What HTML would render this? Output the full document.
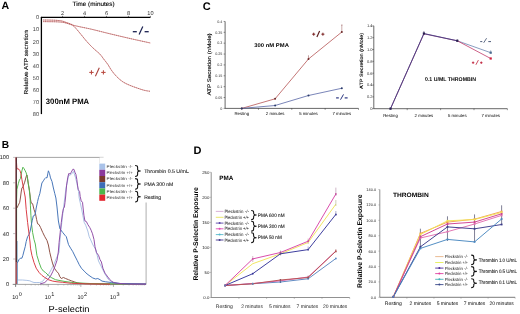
<!DOCTYPE html>
<html><head><meta charset="utf-8"><style>
html,body{margin:0;padding:0;background:#fff;}
body{width:520px;height:314px;overflow:hidden;}
svg{display:block;font-family:"Liberation Sans", sans-serif;will-change:transform;}
</style></head><body>
<svg text-rendering="geometricPrecision" width="520" height="314" viewBox="0 0 520 314" font-family='"Liberation Sans", sans-serif'>
<rect width="520" height="314" fill="#fff"/>
<text x="1.4" y="8.9" font-size="10.6" text-anchor="start" font-weight="bold" fill="#000">A</text>
<text x="72.5" y="5.6" font-size="6.2" text-anchor="start" fill="#000" textLength="42" lengthAdjust="spacingAndGlyphs" stroke="#000" stroke-width="0.12">Time (minutes)</text>
<line x1="40.9" y1="17.4" x2="150.4" y2="17.4" stroke="#000" stroke-width="1.2"/>
<line x1="41.4" y1="16.9" x2="41.4" y2="114.10000000000001" stroke="#000" stroke-width="1.3"/>
<text x="62.56" y="14.6" font-size="5.6" text-anchor="middle" fill="#333">2</text>
<line x1="62.56" y1="15.899999999999999" x2="62.56" y2="17.4" stroke="#000" stroke-width="0.5"/>
<text x="84.52000000000001" y="14.6" font-size="5.6" text-anchor="middle" fill="#333">4</text>
<line x1="84.52000000000001" y1="15.899999999999999" x2="84.52000000000001" y2="17.4" stroke="#000" stroke-width="0.5"/>
<text x="106.47999999999999" y="14.6" font-size="5.6" text-anchor="middle" fill="#333">6</text>
<line x1="106.47999999999999" y1="15.899999999999999" x2="106.47999999999999" y2="17.4" stroke="#000" stroke-width="0.5"/>
<text x="128.44" y="14.6" font-size="5.6" text-anchor="middle" fill="#333">8</text>
<line x1="128.44" y1="15.899999999999999" x2="128.44" y2="17.4" stroke="#000" stroke-width="0.5"/>
<text x="150.4" y="14.6" font-size="5.6" text-anchor="middle" fill="#333">10</text>
<line x1="150.4" y1="15.899999999999999" x2="150.4" y2="17.4" stroke="#000" stroke-width="0.5"/>
<text x="39.1" y="19.4" font-size="5.6" text-anchor="end" fill="#444">0</text>
<text x="39.1" y="31.45" font-size="5.6" text-anchor="end" fill="#444">10</text>
<text x="39.1" y="43.5" font-size="5.6" text-anchor="end" fill="#444">20</text>
<text x="39.1" y="55.550000000000004" font-size="5.6" text-anchor="end" fill="#444">30</text>
<text x="39.1" y="67.6" font-size="5.6" text-anchor="end" fill="#444">40</text>
<text x="39.1" y="79.65" font-size="5.6" text-anchor="end" fill="#444">50</text>
<text x="39.1" y="91.70000000000002" font-size="5.6" text-anchor="end" fill="#444">60</text>
<text x="39.1" y="103.75" font-size="5.6" text-anchor="end" fill="#444">70</text>
<text x="39.1" y="115.80000000000001" font-size="5.6" text-anchor="end" fill="#444">80</text>
<text x="27.6" y="62.4" font-size="5.8" text-anchor="middle" fill="#000" transform="rotate(-90 27.6 62.4)" textLength="64.2" lengthAdjust="spacingAndGlyphs" stroke="#000" stroke-width="0.12">Relative ATP secretion</text>
<path d="M43.00,20.00 C44.17,20.02 47.83,20.05 50.00,20.10 C52.17,20.15 54.00,20.15 56.00,20.30 C58.00,20.45 60.33,20.65 62.00,21.00 C63.67,21.35 64.35,21.80 66.00,22.40 C67.65,23.00 70.23,23.58 71.90,24.60 C73.57,25.62 74.53,26.92 76.00,28.50 C77.47,30.08 79.12,32.18 80.70,34.10 C82.28,36.02 83.90,38.13 85.50,40.00 C87.10,41.87 88.72,43.67 90.30,45.30 C91.88,46.93 93.38,48.32 95.00,49.80 C96.62,51.28 98.58,52.70 100.00,54.20 C101.42,55.70 102.18,57.08 103.50,58.80 C104.82,60.52 106.58,62.60 107.90,64.50 C109.22,66.40 109.95,68.20 111.40,70.20 C112.85,72.20 114.70,74.57 116.60,76.50 C118.50,78.43 120.60,80.33 122.80,81.80 C125.00,83.27 127.47,84.28 129.80,85.30 C132.13,86.32 134.47,87.08 136.80,87.90 C139.13,88.72 141.60,89.63 143.80,90.20 C146.00,90.77 148.97,91.12 150.00,91.30" fill="none" stroke="#d47070" stroke-width="0.75"/>
<path d="M43.00,20.00 C44.17,20.02 47.83,20.05 50.00,20.10 C52.17,20.15 54.00,20.15 56.00,20.30 C58.00,20.45 60.33,20.65 62.00,21.00 C63.67,21.35 64.35,21.80 66.00,22.40 C67.65,23.00 70.23,23.58 71.90,24.60 C73.57,25.62 74.53,26.92 76.00,28.50 C77.47,30.08 79.12,32.18 80.70,34.10 C82.28,36.02 83.90,38.13 85.50,40.00 C87.10,41.87 88.72,43.67 90.30,45.30 C91.88,46.93 93.38,48.32 95.00,49.80 C96.62,51.28 98.58,52.70 100.00,54.20 C101.42,55.70 102.18,57.08 103.50,58.80 C104.82,60.52 106.58,62.60 107.90,64.50 C109.22,66.40 109.95,68.20 111.40,70.20 C112.85,72.20 114.70,74.57 116.60,76.50 C118.50,78.43 120.60,80.33 122.80,81.80 C125.00,83.27 127.47,84.28 129.80,85.30 C132.13,86.32 134.47,87.08 136.80,87.90 C139.13,88.72 141.60,89.63 143.80,90.20 C146.00,90.77 148.97,91.12 150.00,91.30" fill="none" stroke="#6a3a3a" stroke-width="0.45" stroke-dasharray="0.9 1.3"/>
<path d="M43.00,21.60 C44.17,21.62 47.83,21.67 50.00,21.70 C52.17,21.73 54.00,21.72 56.00,21.80 C58.00,21.88 60.33,22.00 62.00,22.20 C63.67,22.40 64.35,22.55 66.00,23.00 C67.65,23.45 69.57,24.27 71.90,24.90 C74.23,25.53 76.68,26.07 80.00,26.80 C83.32,27.53 86.80,28.13 91.80,29.30 C96.80,30.47 103.63,32.27 110.00,33.80 C116.37,35.33 123.27,36.97 130.00,38.50 C136.73,40.03 147.00,42.25 150.40,43.00" fill="none" stroke="#d47070" stroke-width="0.75"/>
<path d="M43.00,21.60 C44.17,21.62 47.83,21.67 50.00,21.70 C52.17,21.73 54.00,21.72 56.00,21.80 C58.00,21.88 60.33,22.00 62.00,22.20 C63.67,22.40 64.35,22.55 66.00,23.00 C67.65,23.45 69.57,24.27 71.90,24.90 C74.23,25.53 76.68,26.07 80.00,26.80 C83.32,27.53 86.80,28.13 91.80,29.30 C96.80,30.47 103.63,32.27 110.00,33.80 C116.37,35.33 123.27,36.97 130.00,38.50 C136.73,40.03 147.00,42.25 150.40,43.00" fill="none" stroke="#6a3a3a" stroke-width="0.45" stroke-dasharray="0.9 1.3"/>
<line x1="89.25" y1="72.4" x2="93.65" y2="72.4" stroke="#b8483e" stroke-width="1.05"/>
<line x1="91.45" y1="70.2" x2="91.45" y2="74.60000000000001" stroke="#b8483e" stroke-width="1.05"/>
<line x1="95.4" y1="76.3" x2="99.3" y2="67.7" stroke="#a8403a" stroke-width="1.1"/>
<line x1="101.2" y1="72.4" x2="105.60000000000001" y2="72.4" stroke="#b8483e" stroke-width="1.05"/>
<line x1="103.4" y1="70.2" x2="103.4" y2="74.60000000000001" stroke="#b8483e" stroke-width="1.05"/>
<line x1="132.8" y1="31.7" x2="136.8" y2="31.7" stroke="#1a2050" stroke-width="1.3"/>
<line x1="139.1" y1="34.5" x2="142.8" y2="26.5" stroke="#1a2050" stroke-width="1.2"/>
<line x1="144.6" y1="31.7" x2="148.7" y2="31.7" stroke="#1a2050" stroke-width="1.3"/>
<text x="45.8" y="103.9" font-size="7.8" text-anchor="start" font-weight="bold" fill="#000" textLength="43.4" lengthAdjust="spacingAndGlyphs">300nM PMA</text>
<text x="202.7" y="10.0" font-size="11.0" text-anchor="start" font-weight="bold" fill="#000">C</text>
<line x1="225.1" y1="21.439999999999998" x2="225.1" y2="108.4" stroke="#000" stroke-width="0.6"/>
<line x1="225.1" y1="108.4" x2="358.5" y2="108.4" stroke="#000" stroke-width="0.6"/>
<text x="222.4" y="109.7" font-size="3.7" text-anchor="end" fill="#333">0</text>
<line x1="223.6" y1="108.4" x2="225.1" y2="108.4" stroke="#000" stroke-width="0.4"/>
<text x="222.4" y="98.83" font-size="3.7" text-anchor="end" fill="#333">0.05</text>
<line x1="223.6" y1="97.53" x2="225.1" y2="97.53" stroke="#000" stroke-width="0.4"/>
<text x="222.4" y="87.96" font-size="3.7" text-anchor="end" fill="#333">0.1</text>
<line x1="223.6" y1="86.66" x2="225.1" y2="86.66" stroke="#000" stroke-width="0.4"/>
<text x="222.4" y="77.09" font-size="3.7" text-anchor="end" fill="#333">0.15</text>
<line x1="223.6" y1="75.79" x2="225.1" y2="75.79" stroke="#000" stroke-width="0.4"/>
<text x="222.4" y="66.22" font-size="3.7" text-anchor="end" fill="#333">0.2</text>
<line x1="223.6" y1="64.92" x2="225.1" y2="64.92" stroke="#000" stroke-width="0.4"/>
<text x="222.4" y="55.35" font-size="3.7" text-anchor="end" fill="#333">0.25</text>
<line x1="223.6" y1="54.050000000000004" x2="225.1" y2="54.050000000000004" stroke="#000" stroke-width="0.4"/>
<text x="222.4" y="44.480000000000004" font-size="3.7" text-anchor="end" fill="#333">0.3</text>
<line x1="223.6" y1="43.18000000000001" x2="225.1" y2="43.18000000000001" stroke="#000" stroke-width="0.4"/>
<text x="222.4" y="33.61" font-size="3.7" text-anchor="end" fill="#333">0.35</text>
<line x1="223.6" y1="32.31" x2="225.1" y2="32.31" stroke="#000" stroke-width="0.4"/>
<text x="222.4" y="22.74" font-size="3.7" text-anchor="end" fill="#333">0.4</text>
<line x1="223.6" y1="21.439999999999998" x2="225.1" y2="21.439999999999998" stroke="#000" stroke-width="0.4"/>
<line x1="258.45" y1="108.4" x2="258.45" y2="109.9" stroke="#000" stroke-width="0.4"/>
<line x1="291.8" y1="108.4" x2="291.8" y2="109.9" stroke="#000" stroke-width="0.4"/>
<line x1="325.15" y1="108.4" x2="325.15" y2="109.9" stroke="#000" stroke-width="0.4"/>
<line x1="358.5" y1="108.4" x2="358.5" y2="109.9" stroke="#000" stroke-width="0.4"/>
<text x="241.775" y="115.4" font-size="4.3" text-anchor="middle" fill="#000">Resting</text>
<text x="275.125" y="115.4" font-size="4.3" text-anchor="middle" fill="#000">2 minutes</text>
<text x="308.475" y="115.4" font-size="4.3" text-anchor="middle" fill="#000">5 minutes</text>
<text x="341.825" y="115.4" font-size="4.3" text-anchor="middle" fill="#000">7 minutes</text>
<text x="210.6" y="64.4" font-size="5.2" text-anchor="middle" fill="#000" transform="rotate(-90 210.6 64.4)" textLength="62.2" lengthAdjust="spacingAndGlyphs" stroke="#000" stroke-width="0.12">ATP Secretion (nMole)</text>
<polyline points="241.78,108.40 275.12,98.80 308.48,59.00 341.82,32.00" fill="none" stroke="#b04a4a" stroke-width="0.75" stroke-linejoin="round"/>
<polyline points="241.78,108.40 275.12,105.50 308.48,95.50 341.82,88.25" fill="none" stroke="#4d5ca0" stroke-width="0.75" stroke-linejoin="round"/>
<circle cx="241.775" cy="108.4" r="1.0" fill="#6a2a2a"/>
<circle cx="275.125" cy="98.8" r="1.0" fill="#6a2a2a"/>
<circle cx="308.475" cy="59.0" r="1.0" fill="#6a2a2a"/>
<circle cx="341.825" cy="32" r="1.0" fill="#6a2a2a"/>
<circle cx="241.775" cy="108.4" r="1.0" fill="#2a3a6a"/>
<circle cx="275.125" cy="105.5" r="1.0" fill="#2a3a6a"/>
<circle cx="308.475" cy="95.5" r="1.0" fill="#2a3a6a"/>
<circle cx="341.825" cy="88.25" r="1.0" fill="#2a3a6a"/>
<line x1="341.825" y1="25" x2="341.825" y2="32" stroke="#7a2a2a" stroke-width="0.4"/>
<line x1="341.025" y1="25" x2="342.625" y2="25" stroke="#7a2a2a" stroke-width="0.4"/>
<line x1="308.475" y1="55.3" x2="308.475" y2="59.5" stroke="#7a2a2a" stroke-width="0.45"/>
<text x="254.3" y="47.1" font-size="5.4" text-anchor="start" font-weight="bold" fill="#000" textLength="34.6" lengthAdjust="spacingAndGlyphs">300 nM PMA</text>
<line x1="312.2" y1="34.2" x2="315.2" y2="34.2" stroke="#7a2222" stroke-width="1.0"/>
<line x1="313.7" y1="32.7" x2="313.7" y2="35.7" stroke="#7a2222" stroke-width="1.0"/>
<line x1="316.9" y1="37.0" x2="319.6" y2="30.9" stroke="#5a1c1c" stroke-width="1.15"/>
<line x1="321.4" y1="34.2" x2="324.4" y2="34.2" stroke="#7a2222" stroke-width="1.0"/>
<line x1="322.9" y1="32.7" x2="322.9" y2="35.7" stroke="#7a2222" stroke-width="1.0"/>
<line x1="336.1" y1="97.9" x2="338.8" y2="97.9" stroke="#2a3580" stroke-width="1.2"/>
<line x1="340.5" y1="99.7" x2="343.5" y2="94.4" stroke="#2a3580" stroke-width="1.0"/>
<line x1="344.7" y1="97.9" x2="347.6" y2="97.9" stroke="#2a3580" stroke-width="1.2"/>
<line x1="373.8" y1="25.820000000000007" x2="373.8" y2="108.7" stroke="#000" stroke-width="0.6"/>
<line x1="373.8" y1="108.7" x2="507.4" y2="108.7" stroke="#000" stroke-width="0.6"/>
<text x="372.5" y="110.10000000000001" font-size="4.0" text-anchor="end" fill="#333">0</text>
<line x1="372.3" y1="108.7" x2="373.8" y2="108.7" stroke="#000" stroke-width="0.4"/>
<text x="372.5" y="98.26" font-size="4.0" text-anchor="end" fill="#333">0.2</text>
<line x1="372.3" y1="96.86" x2="373.8" y2="96.86" stroke="#000" stroke-width="0.4"/>
<text x="372.5" y="86.42" font-size="4.0" text-anchor="end" fill="#333">0.4</text>
<line x1="372.3" y1="85.02" x2="373.8" y2="85.02" stroke="#000" stroke-width="0.4"/>
<text x="372.5" y="74.58000000000001" font-size="4.0" text-anchor="end" fill="#333">0.6</text>
<line x1="372.3" y1="73.18" x2="373.8" y2="73.18" stroke="#000" stroke-width="0.4"/>
<text x="372.5" y="62.739999999999995" font-size="4.0" text-anchor="end" fill="#333">0.8</text>
<line x1="372.3" y1="61.339999999999996" x2="373.8" y2="61.339999999999996" stroke="#000" stroke-width="0.4"/>
<text x="372.5" y="50.9" font-size="4.0" text-anchor="end" fill="#333">1.0</text>
<line x1="372.3" y1="49.5" x2="373.8" y2="49.5" stroke="#000" stroke-width="0.4"/>
<text x="372.5" y="39.059999999999995" font-size="4.0" text-anchor="end" fill="#333">1.2</text>
<line x1="372.3" y1="37.66" x2="373.8" y2="37.66" stroke="#000" stroke-width="0.4"/>
<text x="372.5" y="27.220000000000006" font-size="4.0" text-anchor="end" fill="#333">1.4</text>
<line x1="372.3" y1="25.820000000000007" x2="373.8" y2="25.820000000000007" stroke="#000" stroke-width="0.4"/>
<line x1="407.2" y1="108.7" x2="407.2" y2="110.2" stroke="#000" stroke-width="0.4"/>
<line x1="440.6" y1="108.7" x2="440.6" y2="110.2" stroke="#000" stroke-width="0.4"/>
<line x1="474.0" y1="108.7" x2="474.0" y2="110.2" stroke="#000" stroke-width="0.4"/>
<line x1="507.4" y1="108.7" x2="507.4" y2="110.2" stroke="#000" stroke-width="0.4"/>
<text x="390.5" y="116.9" font-size="4.3" text-anchor="middle" fill="#000">Resting</text>
<text x="423.9" y="116.9" font-size="4.3" text-anchor="middle" fill="#000">2 minutes</text>
<text x="457.3" y="116.9" font-size="4.3" text-anchor="middle" fill="#000">5 minutes</text>
<text x="490.7" y="116.9" font-size="4.3" text-anchor="middle" fill="#000">7 minutes</text>
<text x="363.5" y="60.9" font-size="4.7" text-anchor="middle" fill="#000" transform="rotate(-90 363.5 60.9)" textLength="56" lengthAdjust="spacingAndGlyphs" stroke="#000" stroke-width="0.12">ATP Secretion (nMole)</text>
<polyline points="457.30,40.80 490.70,52.70" fill="none" stroke="#6a84b0" stroke-width="0.8" stroke-linejoin="round"/>
<polyline points="457.30,40.80 490.70,58.50" fill="none" stroke="#c03a6a" stroke-width="0.8" stroke-linejoin="round"/>
<polyline points="390.50,108.70 423.90,33.80 457.30,40.80" fill="none" stroke="#8a3a7a" stroke-width="0.9" stroke-linejoin="round"/>
<polyline points="390.50,108.70 423.90,33.50 457.30,40.80" fill="none" stroke="#3e3a80" stroke-width="0.8" stroke-linejoin="round"/>
<rect x="389.4" y="107.60000000000001" width="2.2" height="2.2" fill="#2a2050"/>
<rect x="422.79999999999995" y="32.4" width="2.2" height="2.2" fill="#2a2050"/>
<rect x="456.2" y="39.699999999999996" width="2.2" height="2.2" fill="#2a2050"/>
<rect x="489.59999999999997" y="51.6" width="2.2" height="2.2" fill="#4a6a90"/>
<rect x="489.59999999999997" y="57.4" width="2.2" height="2.2" fill="#d02040"/>
<line x1="423.9" y1="31.0" x2="423.9" y2="33.5" stroke="#2a2050" stroke-width="0.5"/>
<line x1="457.3" y1="39.2" x2="457.3" y2="40.8" stroke="#2a2050" stroke-width="0.5"/>
<line x1="490.7" y1="50.3" x2="490.7" y2="52.7" stroke="#4a6a90" stroke-width="0.5"/>
<text x="425" y="81" font-size="5.5" text-anchor="start" font-weight="bold" fill="#000" textLength="51" lengthAdjust="spacingAndGlyphs">0.1 U/ML THROMBIN</text>
<line x1="480.2" y1="41.6" x2="482.3" y2="41.6" stroke="#3a4a6a" stroke-width="0.9"/>
<line x1="483.7" y1="42.8" x2="486.6" y2="38.2" stroke="#3a4a6a" stroke-width="0.8"/>
<line x1="488.3" y1="41.6" x2="491" y2="41.6" stroke="#3a4a6a" stroke-width="0.9"/>
<line x1="471.90000000000003" y1="62.7" x2="474.3" y2="62.7" stroke="#c0203a" stroke-width="0.9"/>
<line x1="473.1" y1="61.5" x2="473.1" y2="63.900000000000006" stroke="#c0203a" stroke-width="0.9"/>
<line x1="475.9" y1="64.8" x2="478.4" y2="60.1" stroke="#c0203a" stroke-width="0.8"/>
<line x1="480.1" y1="62.7" x2="482.5" y2="62.7" stroke="#c0203a" stroke-width="0.9"/>
<line x1="481.3" y1="61.5" x2="481.3" y2="63.900000000000006" stroke="#c0203a" stroke-width="0.9"/>
<text x="1.7" y="148.4" font-size="10.2" text-anchor="start" font-weight="bold" fill="#000">B</text>
<line x1="15.6" y1="157.4" x2="103.6" y2="157.4" stroke="#666" stroke-width="0.6"/>
<line x1="15.6" y1="157.4" x2="15.6" y2="286.9" stroke="#666" stroke-width="0.6"/>
<line x1="12.6" y1="284.4" x2="146.1" y2="284.4" stroke="#666" stroke-width="0.6"/>
<line x1="146.1" y1="202.5" x2="146.1" y2="284.4" stroke="#777" stroke-width="0.6"/>
<text x="9" y="286.4" font-size="5.6" text-anchor="end" fill="#222">0</text>
<line x1="13.1" y1="284.4" x2="15.6" y2="284.4" stroke="#666" stroke-width="0.4"/>
<text x="9" y="261.0" font-size="5.6" text-anchor="end" fill="#222">20</text>
<line x1="13.1" y1="259.0" x2="15.6" y2="259.0" stroke="#666" stroke-width="0.4"/>
<text x="9" y="235.59999999999997" font-size="5.6" text-anchor="end" fill="#222">40</text>
<line x1="13.1" y1="233.59999999999997" x2="15.6" y2="233.59999999999997" stroke="#666" stroke-width="0.4"/>
<text x="9" y="210.2" font-size="5.6" text-anchor="end" fill="#222">60</text>
<line x1="13.1" y1="208.2" x2="15.6" y2="208.2" stroke="#666" stroke-width="0.4"/>
<text x="9" y="184.79999999999998" font-size="5.6" text-anchor="end" fill="#222">80</text>
<line x1="13.1" y1="182.79999999999998" x2="15.6" y2="182.79999999999998" stroke="#666" stroke-width="0.4"/>
<text x="9" y="159.39999999999998" font-size="5.6" text-anchor="end" fill="#222">100</text>
<line x1="13.1" y1="157.39999999999998" x2="15.6" y2="157.39999999999998" stroke="#666" stroke-width="0.4"/>
<text x="15.2" y="298.6" font-size="5.5" text-anchor="middle" fill="#111">10</text>
<text x="18.7" y="295.8" font-size="5.5" text-anchor="start" fill="#111">0</text>
<line x1="15.6" y1="284.4" x2="15.6" y2="286.9" stroke="#666" stroke-width="0.5"/>
<line x1="25.419598458559065" y1="284.4" x2="25.419598458559065" y2="285.7" stroke="#888" stroke-width="0.35"/>
<line x1="31.163695328955384" y1="284.4" x2="31.163695328955384" y2="285.7" stroke="#888" stroke-width="0.35"/>
<line x1="35.23919691711813" y1="284.4" x2="35.23919691711813" y2="285.7" stroke="#888" stroke-width="0.35"/>
<line x1="38.400401541440935" y1="284.4" x2="38.400401541440935" y2="285.7" stroke="#888" stroke-width="0.35"/>
<line x1="40.983293787514455" y1="284.4" x2="40.983293787514455" y2="285.7" stroke="#888" stroke-width="0.35"/>
<line x1="43.16709806526505" y1="284.4" x2="43.16709806526505" y2="285.7" stroke="#888" stroke-width="0.35"/>
<line x1="45.05879537567719" y1="284.4" x2="45.05879537567719" y2="285.7" stroke="#888" stroke-width="0.35"/>
<line x1="46.727390657910775" y1="284.4" x2="46.727390657910775" y2="285.7" stroke="#888" stroke-width="0.35"/>
<text x="47.82" y="298.6" font-size="5.5" text-anchor="middle" fill="#111">10</text>
<text x="51.32" y="295.8" font-size="5.5" text-anchor="start" fill="#111">1</text>
<line x1="48.22" y1="284.4" x2="48.22" y2="286.9" stroke="#666" stroke-width="0.5"/>
<line x1="58.03959845855906" y1="284.4" x2="58.03959845855906" y2="285.7" stroke="#888" stroke-width="0.35"/>
<line x1="63.78369532895539" y1="284.4" x2="63.78369532895539" y2="285.7" stroke="#888" stroke-width="0.35"/>
<line x1="67.85919691711813" y1="284.4" x2="67.85919691711813" y2="285.7" stroke="#888" stroke-width="0.35"/>
<line x1="71.02040154144093" y1="284.4" x2="71.02040154144093" y2="285.7" stroke="#888" stroke-width="0.35"/>
<line x1="73.60329378751445" y1="284.4" x2="73.60329378751445" y2="285.7" stroke="#888" stroke-width="0.35"/>
<line x1="75.78709806526506" y1="284.4" x2="75.78709806526506" y2="285.7" stroke="#888" stroke-width="0.35"/>
<line x1="77.6787953756772" y1="284.4" x2="77.6787953756772" y2="285.7" stroke="#888" stroke-width="0.35"/>
<line x1="79.34739065791078" y1="284.4" x2="79.34739065791078" y2="285.7" stroke="#888" stroke-width="0.35"/>
<text x="80.43999999999998" y="298.6" font-size="5.5" text-anchor="middle" fill="#111">10</text>
<text x="83.93999999999998" y="295.8" font-size="5.5" text-anchor="start" fill="#111">2</text>
<line x1="80.83999999999999" y1="284.4" x2="80.83999999999999" y2="286.9" stroke="#666" stroke-width="0.5"/>
<line x1="90.65959845855906" y1="284.4" x2="90.65959845855906" y2="285.7" stroke="#888" stroke-width="0.35"/>
<line x1="96.40369532895538" y1="284.4" x2="96.40369532895538" y2="285.7" stroke="#888" stroke-width="0.35"/>
<line x1="100.47919691711812" y1="284.4" x2="100.47919691711812" y2="285.7" stroke="#888" stroke-width="0.35"/>
<line x1="103.64040154144092" y1="284.4" x2="103.64040154144092" y2="285.7" stroke="#888" stroke-width="0.35"/>
<line x1="106.22329378751445" y1="284.4" x2="106.22329378751445" y2="285.7" stroke="#888" stroke-width="0.35"/>
<line x1="108.40709806526505" y1="284.4" x2="108.40709806526505" y2="285.7" stroke="#888" stroke-width="0.35"/>
<line x1="110.29879537567719" y1="284.4" x2="110.29879537567719" y2="285.7" stroke="#888" stroke-width="0.35"/>
<line x1="111.96739065791076" y1="284.4" x2="111.96739065791076" y2="285.7" stroke="#888" stroke-width="0.35"/>
<text x="113.05999999999997" y="298.6" font-size="5.5" text-anchor="middle" fill="#111">10</text>
<text x="116.55999999999997" y="295.8" font-size="5.5" text-anchor="start" fill="#111">3</text>
<line x1="113.45999999999998" y1="284.4" x2="113.45999999999998" y2="286.9" stroke="#666" stroke-width="0.5"/>
<line x1="123.27959845855905" y1="284.4" x2="123.27959845855905" y2="285.7" stroke="#888" stroke-width="0.35"/>
<line x1="129.02369532895537" y1="284.4" x2="129.02369532895537" y2="285.7" stroke="#888" stroke-width="0.35"/>
<line x1="133.09919691711812" y1="284.4" x2="133.09919691711812" y2="285.7" stroke="#888" stroke-width="0.35"/>
<line x1="136.2604015414409" y1="284.4" x2="136.2604015414409" y2="285.7" stroke="#888" stroke-width="0.35"/>
<line x1="138.84329378751443" y1="284.4" x2="138.84329378751443" y2="285.7" stroke="#888" stroke-width="0.35"/>
<line x1="141.02709806526502" y1="284.4" x2="141.02709806526502" y2="285.7" stroke="#888" stroke-width="0.35"/>
<line x1="142.91879537567718" y1="284.4" x2="142.91879537567718" y2="285.7" stroke="#888" stroke-width="0.35"/>
<line x1="144.58739065791076" y1="284.4" x2="144.58739065791076" y2="285.7" stroke="#888" stroke-width="0.35"/>
<text x="48.6" y="312.3" font-size="8.8" text-anchor="start" fill="#000" textLength="40.8" lengthAdjust="spacingAndGlyphs">P-selectin</text>
<polyline points="17.20,284.00 17.20,241.00 17.10,263.90 17.10,279.70 18.30,280.00 22.60,280.00 26.90,280.40 29.80,280.80 31.90,281.80 34.00,282.50 36.90,282.50 39.80,282.50 41.90,281.80 44.10,279.70 46.20,276.80 48.40,274.70 51.20,269.70 54.10,263.90 57.00,256.80 59.00,252.50 60.00,240.00 61.50,225.00 63.00,212.00 64.50,200.00 66.00,188.00 67.00,183.70 68.50,175.80 71.30,174.30 73.50,171.50 75.60,177.90 77.00,183.70 78.50,191.50 79.20,198.00 81.40,208.00 82.80,215.20 84.20,222.40 85.70,225.20 87.80,231.00 89.20,236.70 90.20,238.80 93.00,245.00 96.00,250.00 98.50,261.00 102.00,268.00 105.00,274.00 108.00,279.00 112.00,282.00 120.00,283.50 146.00,284.00" fill="none" stroke="#a8bfe3" stroke-width="0.95" stroke-linejoin="round"/>
<polyline points="16.90,208.00 18.30,205.20 19.70,202.30 20.40,198.00 21.20,192.00 21.90,188.00 22.90,187.00 24.00,184.00 24.70,182.20 26.20,176.50 26.90,175.00 27.60,178.60 28.30,183.70 29.50,190.80 30.30,198.00 31.20,203.00 32.60,203.70 34.00,209.50 35.50,213.80 36.60,219.50 37.60,223.80 39.00,224.50 40.50,227.40 42.70,232.40 44.80,236.70 47.00,240.50 48.40,245.00 49.80,252.50 51.20,258.20 52.70,263.90 54.80,268.90 57.00,271.80 58.40,273.20 59.90,276.80 61.30,278.50 63.40,277.50 65.60,278.50 68.50,279.70 71.30,280.80 74.20,281.80 77.10,282.80 79.90,283.30 85.70,283.70 100.00,284.00 146.00,284.10" fill="none" stroke="#8a4a3e" stroke-width="0.95" stroke-linejoin="round"/>
<polyline points="16.60,284.00 16.60,200.00 16.90,189.40 18.30,183.70 19.40,180.00 20.40,178.60 21.90,170.80 22.90,167.20 24.00,168.60 25.20,170.80 26.20,172.90 27.20,176.50 28.00,182.20 29.00,188.00 30.00,196.00 30.40,205.20 30.90,215.20 31.50,223.80 32.60,232.40 34.00,239.50 35.30,244.00 36.90,255.30 39.10,262.50 41.20,268.20 43.40,271.10 45.50,272.50 48.40,275.40 51.20,277.50 55.50,279.70 59.00,280.40 65.00,281.50 75.00,282.80 90.00,283.50 110.00,283.80 130.00,284.00" fill="none" stroke="#4fb54a" stroke-width="0.95" stroke-linejoin="round"/>
<polyline points="16.90,284.00 16.90,262.50 17.60,262.50 19.00,259.60 20.40,258.20 21.90,258.20 22.90,255.30 24.00,251.00 25.20,246.70 26.20,241.50 27.60,236.70 29.00,234.50 30.00,231.70 31.20,225.90 32.30,220.20 33.30,215.90 34.80,215.20 35.50,212.30 36.20,208.00 37.60,201.50 38.60,197.30 39.80,193.70 40.90,188.00 41.90,183.00 43.40,180.80 44.80,178.60 45.80,177.60 47.00,177.90 48.40,170.80 49.50,173.60 50.50,177.90 52.00,181.50 53.40,188.00 54.80,193.70 55.90,198.00 57.00,207.00 58.40,221.00 59.90,228.80 62.70,232.40 64.90,235.20 66.30,236.70 67.50,241.00 68.50,244.60 70.60,248.20 72.80,251.70 74.90,256.00 77.10,260.30 79.20,264.60 81.40,268.20 84.20,271.10 87.10,274.00 90.00,276.10 92.80,278.00 95.70,279.00 97.80,278.50 100.00,279.70 102.00,281.10 105.70,281.80 111.50,282.50 120.00,283.50 146.00,284.00" fill="none" stroke="#3f70b5" stroke-width="0.95" stroke-linejoin="round"/>
<polyline points="40.00,284.00 44.80,282.50 47.70,279.70 50.50,276.10 52.70,271.80 54.80,266.80 57.00,260.30 58.30,252.00 59.10,242.40 60.20,232.40 61.30,222.40 62.40,213.80 63.40,208.70 64.40,207.00 65.00,202.30 65.60,197.00 66.60,185.10 67.70,177.90 68.70,173.60 70.20,173.90 71.30,172.20 72.80,169.30 73.90,169.30 74.90,172.20 75.90,174.30 76.80,179.40 77.50,185.10 78.20,189.40 78.80,190.50 79.60,191.50 80.20,196.50 81.20,200.90 82.50,202.30 83.10,208.00 83.90,215.20 84.90,220.90 86.40,221.60 87.80,224.50 89.70,227.40 91.10,230.20 92.50,233.80 94.00,239.50 95.00,246.70 96.40,252.50 98.50,255.30 100.00,259.60 101.40,262.00 102.90,268.20 105.00,273.20 107.20,276.10 109.30,279.00 111.50,281.10 113.60,282.50 117.20,283.30 122.90,283.70 128.70,284.00 146.00,284.10" fill="none" stroke="#8c48a4" stroke-width="0.95" stroke-linejoin="round"/>
<polyline points="16.20,284.00 16.20,157.60 16.90,168.60 19.00,169.30 20.00,170.80 20.90,173.60 21.90,179.40 22.90,185.10 24.00,190.80 25.20,197.00 26.20,209.50 27.60,222.40 29.00,233.80 30.00,242.00 30.50,248.20 31.90,255.30 34.00,262.50 36.20,268.20 39.10,272.50 41.90,275.40 44.80,277.50 48.40,279.70 52.70,281.10 57.00,281.80 62.70,282.30 71.30,283.30 85.00,283.80 110.00,284.10" fill="none" stroke="#d8353d" stroke-width="0.95" stroke-linejoin="round"/>
<line x1="16.4" y1="157.6" x2="16.4" y2="262" stroke="#3a2a30" stroke-width="0.9"/>
<rect x="99.4" y="157.8" width="46.6" height="44.2" fill="#fff"/>
<line x1="99.5" y1="157.4" x2="99.5" y2="163.2" stroke="#777" stroke-width="0.5"/>
<rect x="99.3" y="157.5" width="5.9" height="6.2" fill="#ffffff"/>
<rect x="99.3" y="163.6" width="5.9" height="6.2" fill="#a9c2e8"/>
<rect x="99.3" y="169.8" width="5.9" height="6.2" fill="#8b3a9c"/>
<rect x="99.3" y="176.0" width="5.9" height="6.2" fill="#7b3a2d"/>
<rect x="99.3" y="182.2" width="5.9" height="6.2" fill="#3d6db8"/>
<rect x="99.3" y="188.4" width="5.9" height="6.2" fill="#4cb74a"/>
<rect x="99.3" y="194.6" width="5.9" height="6.2" fill="#e3262f"/>
<text x="106.5" y="168.0" font-size="4.1" text-anchor="start" fill="#333" textLength="26.2" lengthAdjust="spacingAndGlyphs">Pleckstrin -/-</text>
<text x="106.5" y="174.20000000000002" font-size="4.1" text-anchor="start" fill="#333" textLength="26.2" lengthAdjust="spacingAndGlyphs">Pleckstrin +/+</text>
<text x="106.5" y="180.4" font-size="4.1" text-anchor="start" fill="#333" textLength="26.2" lengthAdjust="spacingAndGlyphs">Pleckstrin -/-</text>
<text x="106.5" y="186.6" font-size="4.1" text-anchor="start" fill="#333" textLength="26.2" lengthAdjust="spacingAndGlyphs">Pleckstrin +/+</text>
<text x="106.5" y="192.8" font-size="4.1" text-anchor="start" fill="#333" textLength="26.2" lengthAdjust="spacingAndGlyphs">Pleckstrin -/-</text>
<text x="106.5" y="199.0" font-size="4.1" text-anchor="start" fill="#333" textLength="26.2" lengthAdjust="spacingAndGlyphs">Pleckstrin +/+</text>
<path d="M135.1,165.4 C136.7,165.4 137.62,165.8 137.62,167.3 L137.62,169.54999999999998 C137.62,170.54999999999998 138.32,170.95 140.7,170.95 C138.32,170.95 137.62,171.35 137.62,172.35 L137.62,174.6 C137.62,176.1 136.7,176.5 135.1,176.5" fill="none" stroke="#111" stroke-width="1.05"/>
<path d="M135.1,178.6 C136.7,178.6 137.62,179.0 137.62,180.5 L137.62,182.49999999999997 C137.62,183.49999999999997 138.32,183.89999999999998 140.7,183.89999999999998 C138.32,183.89999999999998 137.62,184.29999999999998 137.62,185.29999999999998 L137.62,187.29999999999998 C137.62,188.79999999999998 136.7,189.2 135.1,189.2" fill="none" stroke="#111" stroke-width="1.05"/>
<path d="M135.1,191.3 C136.7,191.3 137.62,191.70000000000002 137.62,193.20000000000002 L137.62,195.25 C137.62,196.25 138.32,196.65 140.7,196.65 C138.32,196.65 137.62,197.05 137.62,198.05 L137.62,200.1 C137.62,201.6 136.7,202.0 135.1,202.0" fill="none" stroke="#111" stroke-width="1.05"/>
<text x="144.2" y="172.8" font-size="5.2" text-anchor="start" fill="#111" textLength="44.6" lengthAdjust="spacingAndGlyphs" stroke="#111" stroke-width="0.08">Thrombin 0.5 U/mL</text>
<text x="144.2" y="185.6" font-size="5.2" text-anchor="start" fill="#111" textLength="29.1" lengthAdjust="spacingAndGlyphs" stroke="#111" stroke-width="0.08">PMA 300 nM</text>
<text x="144.2" y="198.5" font-size="5.2" text-anchor="start" fill="#111" textLength="16.9" lengthAdjust="spacingAndGlyphs" stroke="#111" stroke-width="0.08">Resting</text>
<text x="193.4" y="154.4" font-size="11.0" text-anchor="start" font-weight="bold" fill="#000">D</text>
<text x="198" y="233.9" font-size="6.8" text-anchor="middle" font-weight="bold" fill="#000" transform="rotate(-90 198 233.9)" textLength="93.4" lengthAdjust="spacingAndGlyphs">Relative P-Selectin Exposure</text>
<line x1="211.2" y1="172.25" x2="211.2" y2="297.5" stroke="#555" stroke-width="0.65"/>
<line x1="211.2" y1="297.5" x2="349.7" y2="297.5" stroke="#555" stroke-width="0.65"/>
<text x="209.3" y="299.0" font-size="4.3" text-anchor="end" fill="#222">0.0</text>
<line x1="209.7" y1="297.5" x2="211.2" y2="297.5" stroke="#777" stroke-width="0.4"/>
<text x="209.3" y="273.95" font-size="4.3" text-anchor="end" fill="#222">50</text>
<line x1="209.7" y1="272.45" x2="211.2" y2="272.45" stroke="#777" stroke-width="0.4"/>
<text x="209.3" y="248.9" font-size="4.3" text-anchor="end" fill="#222">100</text>
<line x1="209.7" y1="247.4" x2="211.2" y2="247.4" stroke="#777" stroke-width="0.4"/>
<text x="209.3" y="223.85" font-size="4.3" text-anchor="end" fill="#222">150</text>
<line x1="209.7" y1="222.35" x2="211.2" y2="222.35" stroke="#777" stroke-width="0.4"/>
<text x="209.3" y="198.8" font-size="4.3" text-anchor="end" fill="#222">200</text>
<line x1="209.7" y1="197.3" x2="211.2" y2="197.3" stroke="#777" stroke-width="0.4"/>
<text x="209.3" y="173.75" font-size="4.3" text-anchor="end" fill="#222">250</text>
<line x1="209.7" y1="172.25" x2="211.2" y2="172.25" stroke="#777" stroke-width="0.4"/>
<line x1="238.89999999999998" y1="297.5" x2="238.89999999999998" y2="299.0" stroke="#777" stroke-width="0.4"/>
<line x1="266.59999999999997" y1="297.5" x2="266.59999999999997" y2="299.0" stroke="#777" stroke-width="0.4"/>
<line x1="294.29999999999995" y1="297.5" x2="294.29999999999995" y2="299.0" stroke="#777" stroke-width="0.4"/>
<line x1="322.0" y1="297.5" x2="322.0" y2="299.0" stroke="#777" stroke-width="0.4"/>
<line x1="349.7" y1="297.5" x2="349.7" y2="299.0" stroke="#777" stroke-width="0.4"/>
<text x="224.35" y="307.5" font-size="5.0" text-anchor="middle" fill="#222">Resting</text>
<text x="252.05" y="307.5" font-size="5.0" text-anchor="middle" fill="#222">2 minutes</text>
<text x="279.75" y="307.5" font-size="5.0" text-anchor="middle" fill="#222">5 minutes</text>
<text x="307.45" y="307.5" font-size="5.0" text-anchor="middle" fill="#222">7 minutes</text>
<text x="335.15" y="307.5" font-size="5.0" text-anchor="middle" fill="#222">20 minutes</text>
<text x="219.2" y="179.5" font-size="6.3" text-anchor="start" font-weight="bold" fill="#000">PMA</text>
<polyline points="225.05,285.50 252.75,263.70 280.45,253.80 308.15,242.50 335.85,204.20" fill="none" stroke="#f0e45a" stroke-width="0.95" stroke-linejoin="round"/>
<polyline points="225.05,285.50 252.75,283.75 280.45,282.00 308.15,278.75 335.85,258.50" fill="none" stroke="#5a86c0" stroke-width="0.95" stroke-linejoin="round"/>
<polyline points="225.05,285.50 252.75,283.50 280.45,280.80 308.15,277.00 335.85,251.00" fill="none" stroke="#d860b0" stroke-width="0.95" stroke-linejoin="round"/>
<polyline points="225.05,285.50 252.75,283.75 280.45,280.00 308.15,277.50 335.85,251.20" fill="none" stroke="#b85050" stroke-width="0.95" stroke-linejoin="round"/>
<polyline points="225.05,285.50 252.75,273.70 280.45,253.80 308.15,249.60 335.85,214.40" fill="none" stroke="#35359a" stroke-width="0.95" stroke-linejoin="round"/>
<polyline points="225.05,285.50 252.75,258.90 280.45,252.50 308.15,241.20 335.85,194.00" fill="none" stroke="#d845a8" stroke-width="0.95" stroke-linejoin="round"/>
<circle cx="225.04999999999998" cy="285.5" r="0.9" fill="#d845a8"/>
<circle cx="252.75" cy="258.9" r="0.9" fill="#d845a8"/>
<circle cx="280.45" cy="252.5" r="0.9" fill="#d845a8"/>
<circle cx="308.15" cy="241.2" r="0.9" fill="#d845a8"/>
<circle cx="335.84999999999997" cy="194.0" r="0.9" fill="#d845a8"/>
<circle cx="225.04999999999998" cy="285.5" r="0.9" fill="#35359a"/>
<circle cx="252.75" cy="273.7" r="0.9" fill="#35359a"/>
<circle cx="280.45" cy="253.8" r="0.9" fill="#35359a"/>
<circle cx="308.15" cy="249.6" r="0.9" fill="#35359a"/>
<circle cx="335.84999999999997" cy="214.4" r="0.9" fill="#35359a"/>
<circle cx="225.04999999999998" cy="285.5" r="0.9" fill="#b85050"/>
<circle cx="252.75" cy="283.75" r="0.9" fill="#b85050"/>
<circle cx="280.45" cy="280.0" r="0.9" fill="#b85050"/>
<circle cx="308.15" cy="277.5" r="0.9" fill="#b85050"/>
<circle cx="335.84999999999997" cy="251.2" r="0.9" fill="#b85050"/>
<circle cx="225.04999999999998" cy="285.5" r="0.9" fill="#5a86c0"/>
<circle cx="252.75" cy="283.75" r="0.9" fill="#5a86c0"/>
<circle cx="280.45" cy="282.0" r="0.9" fill="#5a86c0"/>
<circle cx="308.15" cy="278.75" r="0.9" fill="#5a86c0"/>
<circle cx="335.84999999999997" cy="258.5" r="0.9" fill="#5a86c0"/>
<line x1="252.75" y1="256" x2="252.75" y2="262" stroke="#b07090" stroke-width="0.5"/>
<line x1="280.45" y1="250.5" x2="280.45" y2="255.5" stroke="#807070" stroke-width="0.5"/>
<line x1="308.15" y1="238.5" x2="308.15" y2="244" stroke="#b08070" stroke-width="0.5"/>
<line x1="335.84999999999997" y1="187.6" x2="335.84999999999997" y2="196" stroke="#a07090" stroke-width="0.5"/>
<line x1="335.84999999999997" y1="200" x2="335.84999999999997" y2="206" stroke="#a0a070" stroke-width="0.5"/>
<line x1="335.84999999999997" y1="211" x2="335.84999999999997" y2="216" stroke="#606090" stroke-width="0.5"/>
<line x1="308.15" y1="246.5" x2="308.15" y2="251" stroke="#6060a0" stroke-width="0.5"/>
<line x1="335.84999999999997" y1="249" x2="335.84999999999997" y2="253" stroke="#a05050" stroke-width="0.5"/>
<line x1="308.15" y1="275.5" x2="308.15" y2="279" stroke="#705050" stroke-width="0.5"/>
<line x1="280.45" y1="279" x2="280.45" y2="283" stroke="#505070" stroke-width="0.5"/>
<line x1="215.8" y1="211.4" x2="223.5" y2="211.4" stroke="#d5a8d2" stroke-width="0.9"/>
<text x="224.4" y="212.9" font-size="4.6" text-anchor="start" fill="#111" textLength="24.5" lengthAdjust="spacingAndGlyphs">Pleckstrin -/-</text>
<line x1="215.8" y1="217.3" x2="223.5" y2="217.3" stroke="#e8e45a" stroke-width="0.9"/>
<text x="224.4" y="218.8" font-size="4.6" text-anchor="start" fill="#111" textLength="24.5" lengthAdjust="spacingAndGlyphs">Pleckstrin +/+</text>
<line x1="215.8" y1="223.1" x2="223.5" y2="223.1" stroke="#5a46a8" stroke-width="0.9"/>
<circle cx="219.6" cy="223.1" r="1.0" fill="#5a46a8"/>
<text x="224.4" y="224.6" font-size="4.6" text-anchor="start" fill="#111" textLength="24.5" lengthAdjust="spacingAndGlyphs">Pleckstrin -/-</text>
<line x1="215.8" y1="228.8" x2="223.5" y2="228.8" stroke="#e04cb4" stroke-width="0.9"/>
<circle cx="219.6" cy="228.8" r="1.0" fill="#e04cb4"/>
<text x="224.4" y="230.3" font-size="4.6" text-anchor="start" fill="#111" textLength="24.5" lengthAdjust="spacingAndGlyphs">Pleckstrin +/+</text>
<line x1="215.8" y1="234.6" x2="223.5" y2="234.6" stroke="#55b8cc" stroke-width="0.9"/>
<circle cx="219.6" cy="234.6" r="1.0" fill="#55b8cc"/>
<text x="224.4" y="236.1" font-size="4.6" text-anchor="start" fill="#111" textLength="24.5" lengthAdjust="spacingAndGlyphs">Pleckstrin -/-</text>
<line x1="215.8" y1="240.0" x2="223.5" y2="240.0" stroke="#44388e" stroke-width="0.9"/>
<circle cx="219.6" cy="240.0" r="1.0" fill="#44388e"/>
<text x="224.4" y="241.5" font-size="4.6" text-anchor="start" fill="#111" textLength="24.5" lengthAdjust="spacingAndGlyphs">Pleckstrin +/+</text>
<path d="M251.2,210.4 C252.79999999999998,210.4 253.63,210.8 253.63,212.3 L253.63,213.6 C253.63,214.6 254.32999999999998,215.0 256.59999999999997,215.0 C254.32999999999998,215.0 253.63,215.4 253.63,216.4 L253.63,217.7 C253.63,219.2 252.79999999999998,219.6 251.2,219.6" fill="none" stroke="#111" stroke-width="1.05"/>
<path d="M251.2,221.3 C252.79999999999998,221.3 253.63,221.70000000000002 253.63,223.20000000000002 L253.63,224.79999999999998 C253.63,225.79999999999998 254.32999999999998,226.2 256.59999999999997,226.2 C254.32999999999998,226.2 253.63,226.6 253.63,227.6 L253.63,229.2 C253.63,230.7 252.79999999999998,231.1 251.2,231.1" fill="none" stroke="#111" stroke-width="1.05"/>
<path d="M251.2,232.8 C252.79999999999998,232.8 253.63,233.20000000000002 253.63,234.70000000000002 L253.63,236.29999999999998 C253.63,237.29999999999998 254.32999999999998,237.7 256.59999999999997,237.7 C254.32999999999998,237.7 253.63,238.1 253.63,239.1 L253.63,240.7 C253.63,242.2 252.79999999999998,242.6 251.2,242.6" fill="none" stroke="#111" stroke-width="1.05"/>
<text x="257.8" y="216.6" font-size="5.0" text-anchor="start" fill="#111" textLength="26.8" lengthAdjust="spacingAndGlyphs" stroke="#111" stroke-width="0.08">PMA 600 nM</text>
<text x="257.8" y="227.7" font-size="5.0" text-anchor="start" fill="#111" textLength="27" lengthAdjust="spacingAndGlyphs" stroke="#111" stroke-width="0.08">PMA 300 nM</text>
<text x="257.8" y="239.4" font-size="5.0" text-anchor="start" fill="#111" textLength="24" lengthAdjust="spacingAndGlyphs" stroke="#111" stroke-width="0.08">PMA 50 nM</text>
<line x1="379.8" y1="189.542" x2="379.8" y2="297.3" stroke="#555" stroke-width="0.65"/>
<line x1="379.8" y1="297.3" x2="515.15" y2="297.3" stroke="#444" stroke-width="0.7"/>
<text x="376.1" y="298.7" font-size="3.9" text-anchor="end" fill="#222">0.0</text>
<line x1="378.3" y1="297.3" x2="379.8" y2="297.3" stroke="#777" stroke-width="0.4"/>
<text x="376.1" y="283.306" font-size="3.9" text-anchor="end" fill="#222">20.0</text>
<line x1="378.3" y1="281.906" x2="379.8" y2="281.906" stroke="#777" stroke-width="0.4"/>
<text x="376.1" y="267.912" font-size="3.9" text-anchor="end" fill="#222">40.0</text>
<line x1="378.3" y1="266.512" x2="379.8" y2="266.512" stroke="#777" stroke-width="0.4"/>
<text x="376.1" y="252.518" font-size="3.9" text-anchor="end" fill="#222">60.0</text>
<line x1="378.3" y1="251.118" x2="379.8" y2="251.118" stroke="#777" stroke-width="0.4"/>
<text x="376.1" y="237.124" font-size="3.9" text-anchor="end" fill="#222">80.0</text>
<line x1="378.3" y1="235.724" x2="379.8" y2="235.724" stroke="#777" stroke-width="0.4"/>
<text x="376.1" y="221.73000000000002" font-size="3.9" text-anchor="end" fill="#222">100.0</text>
<line x1="378.3" y1="220.33" x2="379.8" y2="220.33" stroke="#777" stroke-width="0.4"/>
<text x="376.1" y="206.336" font-size="3.9" text-anchor="end" fill="#222">120.0</text>
<line x1="378.3" y1="204.936" x2="379.8" y2="204.936" stroke="#777" stroke-width="0.4"/>
<text x="376.1" y="190.942" font-size="3.9" text-anchor="end" fill="#222">140.0</text>
<line x1="378.3" y1="189.542" x2="379.8" y2="189.542" stroke="#777" stroke-width="0.4"/>
<line x1="406.87" y1="297.3" x2="406.87" y2="298.8" stroke="#777" stroke-width="0.4"/>
<line x1="433.94" y1="297.3" x2="433.94" y2="298.8" stroke="#777" stroke-width="0.4"/>
<line x1="461.01" y1="297.3" x2="461.01" y2="298.8" stroke="#777" stroke-width="0.4"/>
<line x1="488.08000000000004" y1="297.3" x2="488.08000000000004" y2="298.8" stroke="#777" stroke-width="0.4"/>
<line x1="515.15" y1="297.3" x2="515.15" y2="298.8" stroke="#777" stroke-width="0.4"/>
<text x="393.33500000000004" y="304.5" font-size="5.0" text-anchor="middle" fill="#000">Resting</text>
<text x="420.40500000000003" y="304.5" font-size="5.0" text-anchor="middle" fill="#000">2 minutes</text>
<text x="447.475" y="304.5" font-size="5.0" text-anchor="middle" fill="#000">5 minutes</text>
<text x="474.545" y="304.5" font-size="5.0" text-anchor="middle" fill="#000">7 minutes</text>
<text x="501.615" y="304.5" font-size="5.0" text-anchor="middle" fill="#000">20 minutes</text>
<text x="393" y="197.1" font-size="6.3" text-anchor="start" font-weight="bold" fill="#000" textLength="35.7" lengthAdjust="spacingAndGlyphs">THROMBIN</text>
<text x="362.2" y="241.25" font-size="6.8" text-anchor="middle" font-weight="bold" fill="#000" transform="rotate(-90 362.2 241.25)" textLength="93.3" lengthAdjust="spacingAndGlyphs">Relative P-Selectin Exposure</text>
<polyline points="393.34,296.80 420.41,233.40 447.48,222.10 474.55,219.20 501.62,211.50" fill="none" stroke="#f0a050" stroke-width="0.95" stroke-linejoin="round"/>
<polyline points="393.34,296.80 420.41,234.50 447.48,220.80 474.55,219.50 501.62,212.50" fill="none" stroke="#f2e455" stroke-width="0.95" stroke-linejoin="round"/>
<polyline points="393.34,296.80 420.41,238.00 447.48,231.70 474.55,224.00 501.62,215.40" fill="none" stroke="#e070b0" stroke-width="0.95" stroke-linejoin="round"/>
<polyline points="393.34,296.80 420.41,236.70 447.48,224.00 474.55,222.10 501.62,213.80" fill="none" stroke="#d04090" stroke-width="0.95" stroke-linejoin="round"/>
<polyline points="393.34,296.80 420.41,246.80 447.48,226.90 474.55,228.80 501.62,224.50" fill="none" stroke="#3a3a8a" stroke-width="0.95" stroke-linejoin="round"/>
<polyline points="393.34,296.80 420.41,248.40 447.48,239.40 474.55,241.90 501.62,219.00" fill="none" stroke="#4a88c0" stroke-width="0.95" stroke-linejoin="round"/>
<line x1="420.40500000000003" y1="228.7" x2="420.40500000000003" y2="249" stroke="#4a4a6a" stroke-width="0.7"/>
<line x1="447.475" y1="216.3" x2="447.475" y2="241" stroke="#4a4a6a" stroke-width="0.7"/>
<line x1="474.545" y1="214.4" x2="474.545" y2="242" stroke="#4a4a6a" stroke-width="0.7"/>
<line x1="501.615" y1="205.3" x2="501.615" y2="225" stroke="#4a4a6a" stroke-width="0.7"/>
<rect x="392.43500000000006" y="295.90000000000003" width="1.8" height="1.8" fill="#f0a050"/>
<rect x="419.50500000000005" y="232.5" width="1.8" height="1.8" fill="#f0a050"/>
<rect x="446.57500000000005" y="221.2" width="1.8" height="1.8" fill="#f0a050"/>
<rect x="473.64500000000004" y="218.29999999999998" width="1.8" height="1.8" fill="#f0a050"/>
<rect x="500.71500000000003" y="210.6" width="1.8" height="1.8" fill="#f0a050"/>
<rect x="392.43500000000006" y="295.90000000000003" width="1.8" height="1.8" fill="#f2e455"/>
<rect x="419.50500000000005" y="233.6" width="1.8" height="1.8" fill="#f2e455"/>
<rect x="446.57500000000005" y="219.9" width="1.8" height="1.8" fill="#f2e455"/>
<rect x="473.64500000000004" y="218.6" width="1.8" height="1.8" fill="#f2e455"/>
<rect x="500.71500000000003" y="211.6" width="1.8" height="1.8" fill="#f2e455"/>
<rect x="392.43500000000006" y="295.90000000000003" width="1.8" height="1.8" fill="#e070b0"/>
<rect x="419.50500000000005" y="237.1" width="1.8" height="1.8" fill="#e070b0"/>
<rect x="446.57500000000005" y="230.79999999999998" width="1.8" height="1.8" fill="#e070b0"/>
<rect x="473.64500000000004" y="223.1" width="1.8" height="1.8" fill="#e070b0"/>
<rect x="500.71500000000003" y="214.5" width="1.8" height="1.8" fill="#e070b0"/>
<rect x="392.43500000000006" y="295.90000000000003" width="1.8" height="1.8" fill="#d04090"/>
<rect x="419.50500000000005" y="235.79999999999998" width="1.8" height="1.8" fill="#d04090"/>
<rect x="446.57500000000005" y="223.1" width="1.8" height="1.8" fill="#d04090"/>
<rect x="473.64500000000004" y="221.2" width="1.8" height="1.8" fill="#d04090"/>
<rect x="500.71500000000003" y="212.9" width="1.8" height="1.8" fill="#d04090"/>
<rect x="392.43500000000006" y="295.90000000000003" width="1.8" height="1.8" fill="#3a3a8a"/>
<rect x="419.50500000000005" y="245.9" width="1.8" height="1.8" fill="#3a3a8a"/>
<rect x="446.57500000000005" y="226.0" width="1.8" height="1.8" fill="#3a3a8a"/>
<rect x="473.64500000000004" y="227.9" width="1.8" height="1.8" fill="#3a3a8a"/>
<rect x="500.71500000000003" y="223.6" width="1.8" height="1.8" fill="#3a3a8a"/>
<rect x="392.43500000000006" y="295.90000000000003" width="1.8" height="1.8" fill="#4a88c0"/>
<rect x="419.50500000000005" y="247.5" width="1.8" height="1.8" fill="#4a88c0"/>
<rect x="446.57500000000005" y="238.5" width="1.8" height="1.8" fill="#4a88c0"/>
<rect x="473.64500000000004" y="241.0" width="1.8" height="1.8" fill="#4a88c0"/>
<rect x="500.71500000000003" y="218.1" width="1.8" height="1.8" fill="#4a88c0"/>
<line x1="435.2" y1="256.6" x2="443.5" y2="256.6" stroke="#e8b488" stroke-width="0.9"/>
<text x="444.7" y="258.1" font-size="4.4" text-anchor="start" fill="#111" textLength="23.3" lengthAdjust="spacingAndGlyphs">Pleckstrin -/-</text>
<line x1="435.2" y1="262.5" x2="443.5" y2="262.5" stroke="#e6ee55" stroke-width="0.9"/>
<text x="444.7" y="264.0" font-size="4.4" text-anchor="start" fill="#111" textLength="23.3" lengthAdjust="spacingAndGlyphs">Pleckstrin +/+</text>
<line x1="435.2" y1="268.1" x2="443.5" y2="268.1" stroke="#4a2a9a" stroke-width="0.9"/>
<circle cx="439.4" cy="268.1" r="1.0" fill="#4a2a9a"/>
<text x="444.7" y="269.6" font-size="4.4" text-anchor="start" fill="#111" textLength="23.3" lengthAdjust="spacingAndGlyphs">Pleckstrin -/-</text>
<line x1="435.2" y1="273.6" x2="443.5" y2="273.6" stroke="#e040a0" stroke-width="0.9"/>
<circle cx="439.4" cy="273.6" r="1.0" fill="#e040a0"/>
<text x="444.7" y="275.1" font-size="4.4" text-anchor="start" fill="#111" textLength="23.3" lengthAdjust="spacingAndGlyphs">Pleckstrin +/+</text>
<line x1="435.2" y1="279.3" x2="443.5" y2="279.3" stroke="#45b3b8" stroke-width="0.9"/>
<circle cx="439.4" cy="279.3" r="1.0" fill="#45b3b8"/>
<text x="444.7" y="280.8" font-size="4.4" text-anchor="start" fill="#111" textLength="23.3" lengthAdjust="spacingAndGlyphs">Pleckstrin -/-</text>
<line x1="435.2" y1="284.6" x2="443.5" y2="284.6" stroke="#3a4a8a" stroke-width="0.9"/>
<circle cx="439.4" cy="284.6" r="1.0" fill="#3a4a8a"/>
<text x="444.7" y="286.1" font-size="4.4" text-anchor="start" fill="#111" textLength="23.3" lengthAdjust="spacingAndGlyphs">Pleckstrin +/+</text>
<path d="M471.2,255.1 C472.8,255.1 473.765,255.5 473.765,257.0 L473.765,258.45000000000005 C473.765,259.45000000000005 474.465,259.85 476.9,259.85 C474.465,259.85 473.765,260.25 473.765,261.25 L473.765,262.70000000000005 C473.765,264.20000000000005 472.8,264.6 471.2,264.6" fill="none" stroke="#111" stroke-width="1.05"/>
<path d="M471.2,266.6 C472.8,266.6 473.765,267.0 473.765,268.5 L473.765,269.95000000000005 C473.765,270.95000000000005 474.465,271.35 476.9,271.35 C474.465,271.35 473.765,271.75 473.765,272.75 L473.765,274.20000000000005 C473.765,275.70000000000005 472.8,276.1 471.2,276.1" fill="none" stroke="#111" stroke-width="1.05"/>
<path d="M471.2,278.7 C472.8,278.7 473.765,279.09999999999997 473.765,280.59999999999997 L473.765,281.75 C473.765,282.75 474.465,283.15 476.9,283.15 C474.465,283.15 473.765,283.54999999999995 473.765,284.54999999999995 L473.765,285.70000000000005 C473.765,287.20000000000005 472.8,287.6 471.2,287.6" fill="none" stroke="#111" stroke-width="1.05"/>
<text x="478.8" y="261.6" font-size="5.0" text-anchor="start" fill="#111" textLength="38.2" lengthAdjust="spacingAndGlyphs" stroke="#111" stroke-width="0.08">Thrombin 1.0 U/mL</text>
<text x="478.8" y="272.7" font-size="5.0" text-anchor="start" fill="#111" textLength="38.2" lengthAdjust="spacingAndGlyphs" stroke="#111" stroke-width="0.08">Thrombin 0.5 U/mL</text>
<text x="478.8" y="284.2" font-size="5.0" text-anchor="start" fill="#111" textLength="38.2" lengthAdjust="spacingAndGlyphs" stroke="#111" stroke-width="0.08">Thrombin 0.1 U/mL</text>
</svg>
</body></html>
